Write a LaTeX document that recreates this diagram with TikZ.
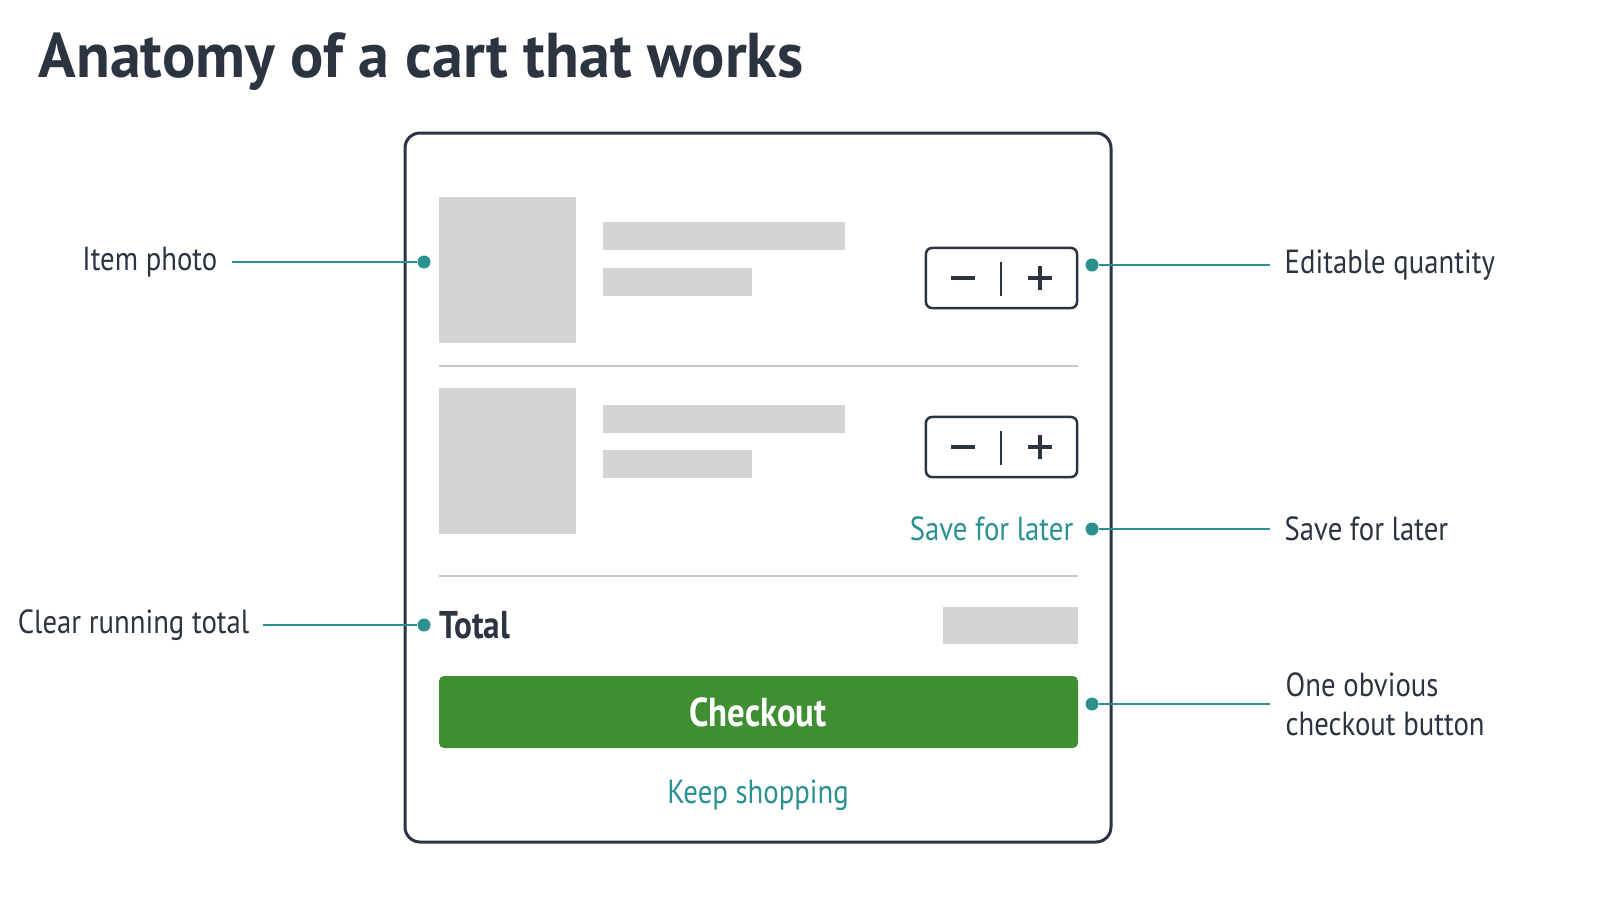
\documentclass[tikz,border=0pt]{standalone}
\usepackage{fontspec}
\setmainfont{PT Sans}[FakeStretch=0.86]
\newfontfamily\headfont{PT Sans}[FakeStretch=0.98]
\usetikzlibrary{positioning}
\definecolor{ink}{HTML}{2B3440}
\definecolor{teal}{HTML}{2A9090}
\definecolor{ghost}{HTML}{D4D4D4}
\definecolor{rule}{HTML}{C8C8C8}
\definecolor{go}{HTML}{3F8F32}
\tikzstyle{block} = [fill=ghost, draw=none]
\tikzstyle{qty} = [draw=ink, line width=0.25mm, rounded corners=0.06cm, minimum width=1.51cm, minimum height=0.6cm]
\tikzstyle{label} = [text=ink, font=\fontsize{9.5}{11}\selectfont, inner sep=0pt]
\tikzstyle{glyph} = [ink, line width=0.35mm]
\tikzstyle{pointer} = [teal, line width=0.25mm]
\tikzstyle{dot} = [circle, fill=teal, inner sep=0pt, minimum size=0.13cm]
\tikzstyle{link} = [text=teal, font=\fontsize{9.5}{11}\selectfont, inner sep=0pt]

\begin{document}
\begin{tikzpicture}[x=0.01cm,y=-0.01cm]
            \useasboundingbox (0,0) rectangle (1600,900);
            \node (title) [anchor=west,text=ink,font=\headfont\bfseries\fontsize{18}{20}\selectfont,inner sep=0pt] at (38,62) {Anatomy of a cart that works};
            \draw [ink,line width=0.3mm,rounded corners=0.15cm] (405,133) rectangle (1111,842);
            % first item
            \fill [block] (439,197) rectangle (576,343);
            \fill [block] (603,222) rectangle (845,250);
            \fill [block] (603,268) rectangle (752,296);
            \node (qty1) [qty] at (1001.5,278) {};
            \draw [ink,line width=0.25mm] (1001,262) -- (1001,296);
            \draw [glyph] (951,278) -- (975,278);
            \draw [glyph] (1028,278) -- (1052,278) (1040,266) -- (1040,290);
            \draw [rule,line width=0.25mm] (439,366) -- (1078,366);
            % second item
            \fill [block] (439,388) rectangle (576,534);
            \fill [block] (603,405) rectangle (845,433);
            \fill [block] (603,450) rectangle (752,478);
            \node (qty2) [qty] at (1001.5,447) {};
            \draw [ink,line width=0.25mm] (1001,431) -- (1001,465);
            \draw [glyph] (951,447) -- (975,447);
            \draw [glyph] (1028,447) -- (1052,447) (1040,435) -- (1040,459);
            \node (later) [link,anchor=east] at (1074,529) {Save for later};
            \draw [rule,line width=0.25mm] (439,576) -- (1078,576);
            % total and buttons
            \node (total) [label,anchor=west,font=\bfseries\fontsize{11}{13}\selectfont] at (439,625) {Total};
            \fill [block] (943,607) rectangle (1078,644);
            \fill [go,rounded corners=0.05cm] (439,676) rectangle (1078,748);
            \node (checkout) [text=white,font=\bfseries\fontsize{11.5}{13}\selectfont] at (758,712) {Checkout};
            \node (keep) [link] at (758,795) {Keep shopping};
            % callouts
            \node (photoL) [label,anchor=east] at (218,262) {Item photo};
            \node (photoD) [dot] at (424,262) {};
            \draw [pointer] (232,262) -- (photoD);
            \node (qtyL) [label,anchor=west] at (1284,265) {Editable quantity};
            \node (qtyD) [dot] at (1092,265) {};
            \draw [pointer] (qtyD) -- ++(178,0);
            \node (laterL) [label,anchor=west] at (1284,529) {Save for later};
            \node (laterD) [dot] at (1092,529) {};
            \draw [pointer] (laterD) -- ++(178,0);
            \node (totalL) [label,anchor=east] at (250,625) {Clear running total};
            \node (totalD) [dot] at (424,625) {};
            \draw [pointer] (263,625) -- (totalD);
            \node (checkL) [label,anchor=west,align=left] at (1285,704) {One obvious\\checkout button};
            \node (checkD) [dot] at (1092,704) {};
            \draw [pointer] (checkD) -- ++(178,0);
        \end{tikzpicture}
\end{document}
